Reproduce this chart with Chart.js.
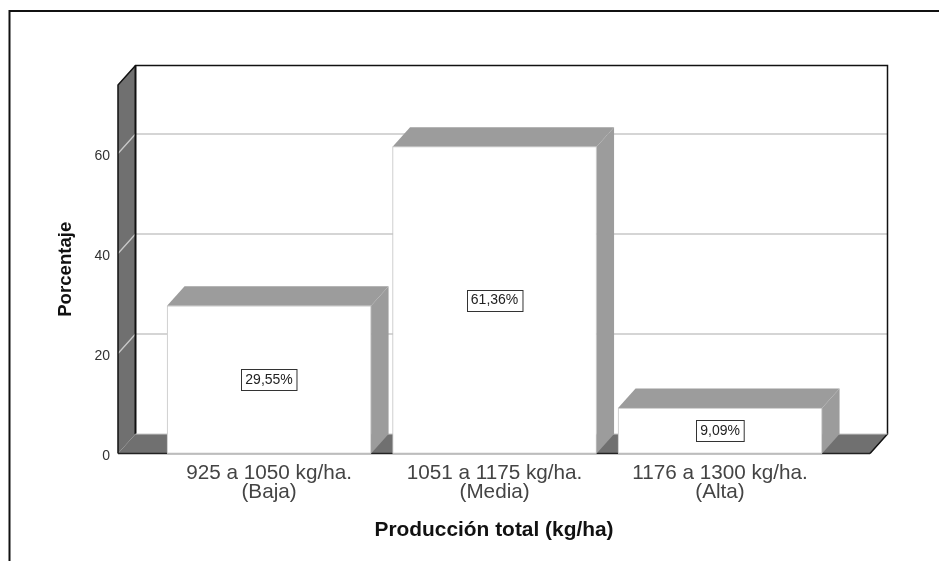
<!DOCTYPE html>
<html>
<head>
<meta charset="utf-8">
<style>
  html, body { margin: 0; padding: 0; background: #fff; }
  #wrap { position: relative; width: 939px; height: 561px; overflow: hidden; }
</style>
</head>
<body>
<div id="wrap"><canvas id="chart" width="939" height="561"></canvas></div>
<script src="https://cdn.jsdelivr.net/npm/chart.js@4/dist/chart.umd.min.js"></script>
<script>
const categories = [
  ["925 a 1050 kg/ha.", "(Baja)"],
  ["1051 a 1175 kg/ha.", "(Media)"],
  ["1176 a 1300 kg/ha.", "(Alta)"],
];
const values = [29.55, 61.36, 9.09];
const yTicks = [0, 20, 40, 60];
const yMax = 73.7;
const xTitle = "Producción total (kg/ha)";
const yTitle = "Porcentaje";

// depth of the fake 3d box
const depthX = 17.5;
const depthY = 19.5;

const FONT = "'Liberation Sans', Arial, sans-serif";

function poly(ctx, pts, fill) {
  ctx.beginPath();
  pts.forEach((p, i) => (i ? ctx.lineTo(p[0], p[1]) : ctx.moveTo(p[0], p[1])));
  ctx.closePath();
  ctx.fillStyle = fill;
  ctx.fill();
}

function line(ctx, pts, color, width) {
  ctx.beginPath();
  pts.forEach((p, i) => (i ? ctx.lineTo(p[0], p[1]) : ctx.moveTo(p[0], p[1])));
  ctx.strokeStyle = color;
  ctx.lineWidth = width;
  ctx.stroke();
}

const box3d = {
  id: "box3d",
  beforeDatasetsDraw(chart) {
    const ctx = chart.ctx;
    const { left, right, top, bottom } = chart.chartArea;
    ctx.save();

    // outer frame, only top and left are in the picture
    line(ctx, [[9.5, 561], [9.5, 11], [939, 11]], "#111", 2);

    // left wall and floor
    poly(ctx, [[left, top], [left + depthX, top - depthY], [left + depthX, bottom - depthY], [left, bottom]], "#707070");
    poly(ctx, [[left, bottom], [left + depthX, bottom - depthY], [right + depthX, bottom - depthY], [right, bottom]], "#707070");

    // gridlines go along the wall then across the back
    yTicks.slice(1).forEach((t) => {
      const y = chart.scales.y.getPixelForValue(t);
      line(ctx, [[left, y], [left + depthX, y - depthY], [right + depthX, y - depthY]], "#c8c8c8", 1.3);
    });

    // box outline
    line(ctx, [[left, bottom], [left, top], [left + depthX, top - depthY], [right + depthX, top - depthY], [right + depthX, bottom - depthY], [right, bottom]], "#111", 1.5);
    line(ctx, [[left + depthX, top - depthY], [left + depthX, bottom - depthY]], "#111", 2);
    line(ctx, [[left + depthX, bottom - depthY], [right + depthX, bottom - depthY]], "#c8c8c8", 1);
    line(ctx, [[left, bottom], [right, bottom]], "#222", 1.5);

    // top and side of the bars
    chart.getDatasetMeta(0).data.forEach((bar) => {
      const x0 = bar.x - bar.width / 2;
      const x1 = bar.x + bar.width / 2;
      poly(ctx, [[x0, bar.y], [x0 + depthX, bar.y - depthY], [x1 + depthX, bar.y - depthY], [x1, bar.y]], "#9c9c9c");
      poly(ctx, [[x1, bar.y], [x1 + depthX, bar.y - depthY], [x1 + depthX, bar.base - depthY], [x1, bar.base]], "#9c9c9c");
    });
    ctx.restore();
  },
  afterDatasetsDraw(chart) {
    const ctx = chart.ctx;
    ctx.save();

    ctx.font = "14px " + FONT;
    ctx.textAlign = "center";
    ctx.textBaseline = "middle";
    chart.getDatasetMeta(0).data.forEach((bar, i) => {
      // light base line under the bar front
      line(ctx, [[bar.x - bar.width / 2, bar.base], [bar.x + bar.width / 2, bar.base]], "#bdbdbd", 1.5);

      // value label in the bar
      const txt = values[i].toFixed(2).replace(".", ",") + "%";
      const w = ctx.measureText(txt).width + 8;
      const h = 21;
      const cy = (bar.y + bar.base) / 2;
      const bx = Math.round(bar.x - w / 2) + 0.5;
      const by = Math.round(cy - h / 2) + 0.5;
      ctx.fillStyle = "#fff";
      ctx.fillRect(bx, by, w, h);
      ctx.strokeStyle = "#333";
      ctx.lineWidth = 1;
      ctx.strokeRect(bx, by, w, h);
      ctx.fillStyle = "#222";
      ctx.fillText(txt, bar.x, cy + 0.5);
    });
    ctx.restore();
  },
};

new Chart(document.getElementById("chart"), {
  type: "bar",
  data: {
    datasets: [
      {
        data: values.map((v, i) => ({ x: i + 1, y: v })),
        backgroundColor: "#fff",
        borderColor: "#c4c4c4",
        borderWidth: 1,
        barThickness: 204,
      },
    ],
  },
  options: {
    responsive: false,
    animation: false,
    layout: { padding: { left: 0, right: 69, top: 85, bottom: 0 } },
    plugins: { legend: { display: false }, tooltip: { enabled: false } },
    scales: {
      x: {
        type: "linear",
        offset: false,
        min: 0.33,
        max: 3.665,
        afterBuildTicks(scale) {
          scale.ticks = categories.map((c, i) => ({ value: i + 1 }));
        },
        afterFit(scale) {
          scale.height = 107.5;
        },
        grid: { display: false },
        border: { display: false },
        ticks: {
          autoSkip: false,
          maxRotation: 0,
          padding: 2,
          color: "#444",
          font: { family: FONT, size: 20.7, lineHeight: 0.92 },
          callback: (v) => categories[v - 1],
        },
        title: {
          display: true,
          text: xTitle,
          color: "#111",
          font: { family: FONT, size: 20.9, weight: "bold" },
          padding: { top: 0, bottom: 18.5 },
        },
      },
      y: {
        min: 0,
        max: yMax,
        afterBuildTicks(scale) {
          scale.ticks = yTicks.map((t) => ({ value: t }));
        },
        afterFit(scale) {
          scale.width = 118;
        },
        grid: { display: false },
        border: { display: false },
        ticks: {
          padding: 0,
          labelOffset: 3,
          color: "#333",
          font: { family: FONT, size: 14 },
        },
        title: {
          display: true,
          text: yTitle,
          color: "#111",
          font: { family: FONT, size: 18.6, weight: "bold" },
          padding: { top: 55, bottom: 0 },
        },
      },
    },
  },
  plugins: [box3d],
});
</script>
</body>
</html>
